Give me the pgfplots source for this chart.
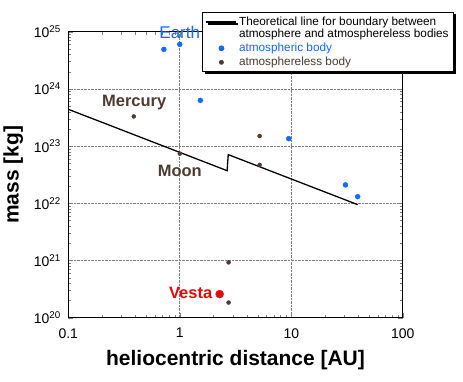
\documentclass[border=0pt]{standalone}
\usepackage{pgfplots}
\pgfplotsset{compat=1.18}
\usepackage{fontspec}
\setmainfont{Liberation Sans}
\usetikzlibrary{shadows}
\definecolor{atmblue}{RGB}{20,105,255}
\definecolor{rockbrown}{RGB}{80,58,48}
\definecolor{vestared}{RGB}{225,10,10}
\pgfplotsset{
  longline legend/.style={legend image code/.code={\draw[##1] (0pt,6pt) -- (30pt,6pt);}},
  dot legend/.style={legend image code/.code={\draw[mark repeat=2,mark phase=2,##1] plot coordinates {(0pt,0pt)(15pt,0pt)(30pt,0pt)};}},
}
\begin{document}
\begin{tikzpicture}
\path (0pt,0pt) rectangle (463pt,382pt);
\begin{axis}[
  at={(67.7pt,63.7pt)}, anchor=south west,
  width=335pt, height=286.6pt, scale only axis,
  xmode=log, ymode=log,
  xmin=0.1, xmax=100, ymin=1e20, ymax=1e25,
  xtick={0.1,1,10,100}, xticklabels={0.1,1,10,100},
  ytick={1e20,1e21,1e22,1e23,1e24,1e25},
  yticklabels={10\textsuperscript{20},10\textsuperscript{21},10\textsuperscript{22},10\textsuperscript{23},10\textsuperscript{24},10\textsuperscript{25}},
  tick label style={font=\fontsize{14}{16}\selectfont},
  xticklabel style={yshift=-7pt},
  yticklabel style={xshift=-4pt},
  tick align=inside,
  major tick length=5pt, minor tick length=3pt,
  grid=major,
  major grid style={gray, densely dotted, line width=0.7pt},
  axis line style={black, line width=0.8pt},
  xlabel={\bfseries heliocentric distance [AU]},
  ylabel={\bfseries mass [kg]},
  label style={font=\fontsize{21}{24}\selectfont},
  xlabel style={yshift=-5pt},
  ylabel style={yshift=4pt},
  clip=false,
  legend cell align=left,
  legend style={
    at={(0.401,1.069)}, anchor=north west,
    font=\fontsize{11.8}{12.5}\selectfont,
    draw=black, line width=0.8pt, fill=white,
    cells={align=left},
    drop shadow={shadow xshift=2pt, shadow yshift=-2pt, fill=black, opacity=1},
    inner xsep=3pt, inner ysep=2.5pt, row sep=0pt,
  },
]
\addplot[black, line width=1.3pt, mark=none, longline legend]
  coordinates {(0.1,4.4e23) (2.66,3.72e22) (2.72,7.1e22) (39.4,9.5e21)};
\addlegendentry{Theoretical line for boundary between\\atmosphere and  atmosphereless bodies}
\addplot[only marks, mark=*, mark size=2.5pt, color=atmblue, dot legend]
  coordinates {(0.72,4.9e24) (1.0,6.0e24) (1.53,6.3e23) (9.5,1.35e23) (30.6,2.1e22) (39.4,1.31e22)};
\addlegendentry{\textcolor{atmblue}{atmospheric body}}
\addplot[only marks, mark=*, mark size=2pt, color=rockbrown, dot legend]
  coordinates {(0.387,3.3e23) (1.0,7.4e22) (5.2,1.5e23) (5.2,4.7e22) (2.74,9.3e20) (2.74,1.85e20)};
\addlegendentry{\textcolor{rockbrown}{atmosphereless body}}
\addplot[only marks, mark=*, mark size=4pt, color=vestared, forget plot]
  coordinates {(2.28,2.6e20)};
\node[text=atmblue, font=\fontsize{17}{18}\selectfont] at (axis cs:1,9.5e24) {Earth};
\node[text=rockbrown, font=\fontsize{16.5}{18}\selectfont\bfseries] at (axis cs:0.39,5.7e23) {Mercury};
\node[text=rockbrown, font=\fontsize{16.5}{18}\selectfont\bfseries] at (axis cs:1.0,3.7e22) {Moon};
\node[text=vestared, font=\fontsize{16.5}{18}\selectfont\bfseries, anchor=east] at (axis cs:2.1,2.75e20) {Vesta};
\end{axis}
\end{tikzpicture}
\end{document}
